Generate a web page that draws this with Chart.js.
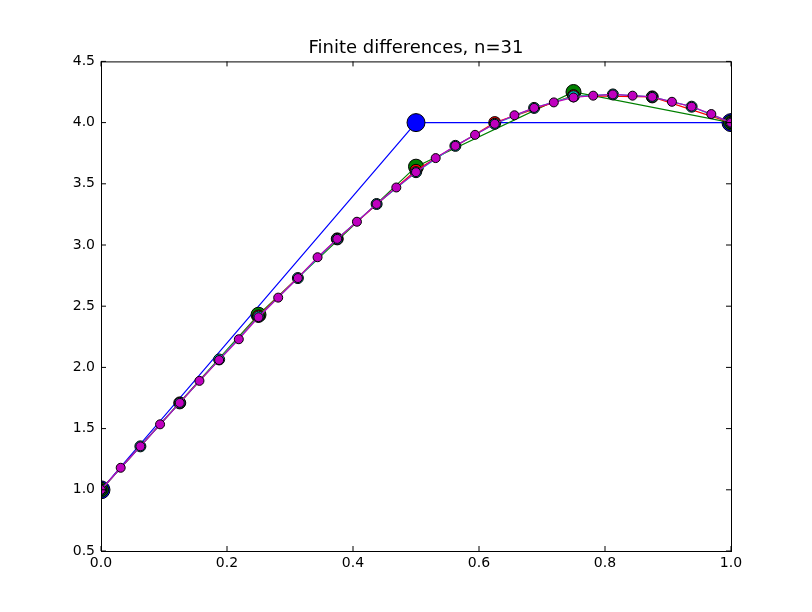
<!DOCTYPE html>
<html>
<head>
<meta charset="utf-8">
<script src="https://cdn.jsdelivr.net/npm/chart.js@4"></script>
<style>
  body { margin: 0; background: #fff; }
  #wrap { width: 800px; height: 600px; }
</style>
</head>
<body>
<div id="wrap"><canvas id="chart" width="800" height="600"></canvas></div>
<script>
// Значения
const y3 = [1.0, 4.0, 4.0];
const y5 = [1.0, 2.43, 3.64, 4.25, 4.0];
const y9 = [1.0, 1.71, 2.42, 3.05, 3.61, 4.0, 4.22, 4.21, 4.0];
const y17 = [1.0, 1.355, 1.71, 2.065, 2.415, 2.73, 3.05, 3.335, 3.595, 3.81, 3.99, 4.12, 4.215, 4.23, 4.21, 4.13, 4.0];
const y33 = [1.0, 1.18, 1.355, 1.535, 1.71, 1.89, 2.06, 2.23, 2.41, 2.57, 2.73, 2.9, 3.05, 3.19, 3.335,
  3.47, 3.595, 3.71, 3.81, 3.9, 3.99, 4.06, 4.12, 4.165, 4.205, 4.22, 4.23, 4.22, 4.21, 4.17, 4.13, 4.07, 4.0];
const xTicks = [0.0, 0.2, 0.4, 0.6, 0.8, 1.0];
const yTicks = [0.5, 1.0, 1.5, 2.0, 2.5, 3.0, 3.5, 4.0, 4.5];
const titleText = 'Finite differences, n=31';

function toPoints(ys) {
  const n = ys.length - 1;
  return ys.map((y, i) => ({ x: i / n, y: y }));
}

function series(ys, color, r, order) {
  return {
    data: toPoints(ys),
    order: order,
    showLine: true,
    borderColor: color,
    borderWidth: 1.2,
    backgroundColor: color,
    pointBackgroundColor: color,
    pointBorderColor: '#000',
    pointBorderWidth: 1,
    pointRadius: r,
    pointHoverRadius: r
  };
}

const font = { family: 'DejaVu Sans', size: 14 };

new Chart(document.getElementById('chart'), {
  type: 'scatter',
  data: {
    datasets: [
      series(y3, '#0000ff', 9, 4),
      series(y5, '#008000', 7.5, 3),
      series(y9, '#ff0000', 6, 2),
      series(y17, '#00bfbf', 5.5, 1),
      series(y33, '#bf00bf', 4.5, 0)
    ]
  },
  options: {
    responsive: false,
    animation: false,
    layout: { padding: { left: 0, right: 69, top: 0, bottom: 0 } },
    plugins: {
      legend: { display: false },
      tooltip: { enabled: false },
      title: {
        display: true,
        text: titleText,
        color: 'rgba(0,0,0,0)',
        font: { family: 'DejaVu Sans', size: 17, weight: 'normal' },
        padding: { top: 37, bottom: 4 }
      }
    },
    scales: {
      x: {
        type: 'linear', min: 0, max: 1,
        afterBuildTicks: s => { s.ticks = xTicks.map(v => ({ value: v })); },
        afterFit: s => { s.height = 49; },
        ticks: { color: '#000', font, callback: v => v.toFixed(1), maxRotation: 0, padding: 4 },
        grid: { display: false, drawTicks: false },
        border: { color: '#000', width: 1 }
      },
      y: {
        type: 'linear', min: 0.5, max: 4.5,
        afterBuildTicks: s => { s.ticks = yTicks.map(v => ({ value: v })); },
        afterFit: s => { s.width = 101; },
        ticks: { color: '#000', font, callback: v => v.toFixed(1), padding: 6 },
        grid: { display: false, drawTicks: false },
        border: { color: '#000', width: 1 }
      }
    }
  },
  plugins: [{
    id: 'frame',
    afterDraw(c) {
      const { ctx, chartArea: a } = c;
      ctx.save();
      ctx.strokeStyle = '#000';
      ctx.lineWidth = 1;
      ctx.strokeRect(a.left + 0.5, a.top + 0.5, a.right - a.left, a.bottom - a.top);
      // внутренние засечки как в matplotlib
      ctx.beginPath();
      xTicks.forEach(v => {
        const x = c.scales.x.getPixelForValue(v);
        ctx.moveTo(x, a.bottom); ctx.lineTo(x, a.bottom - 5);
        ctx.moveTo(x, a.top); ctx.lineTo(x, a.top + 5);
      });
      yTicks.forEach(v => {
        const y = c.scales.y.getPixelForValue(v);
        ctx.moveTo(a.left, y); ctx.lineTo(a.left + 5, y);
        ctx.moveTo(a.right, y); ctx.lineTo(a.right - 5, y);
      });
      ctx.stroke();
      // заголовок по центру области графика
      ctx.fillStyle = '#000';
      ctx.font = '18px "DejaVu Sans"';
      ctx.textAlign = 'center';
      ctx.textBaseline = 'bottom';
      ctx.fillText(titleText, (a.left + a.right) / 2, a.top - 4);
      ctx.restore();
    }
  }]
});
</script>
</body>
</html>
